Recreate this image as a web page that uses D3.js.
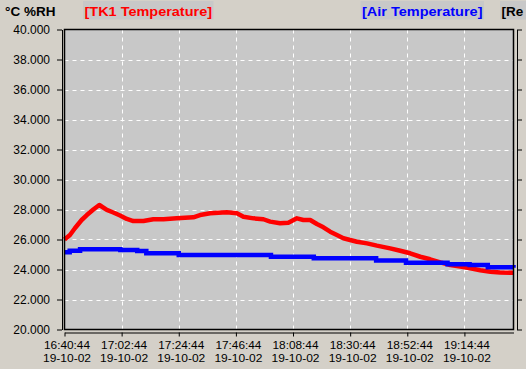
<!DOCTYPE html>
<html><head><meta charset="utf-8">
<script src="https://cdn.jsdelivr.net/npm/d3@7"></script>
<style>
html,body{margin:0;padding:0;background:#d4d0c8;}
svg{display:block;font-family:"Liberation Sans",Arial,sans-serif;}
</style></head>
<body>
<svg id="c" width="526" height="369"></svg>
<script>
// ---- data ----
const startTime = "16:40:44";
const dateLabel = "19-10-02";
const xTickMinutes = [0, 22, 44, 66, 88, 110, 132, 154];
const xTickTimes = ["16:40:44","17:02:44","17:24:44","17:46:44","18:08:44","18:30:44","18:52:44","19:14:44"];
const xTickDates = ["19-10-02","19-10-02","19-10-02","19-10-02","19-10-02","19-10-02","19-10-02","19-10-02"];
const yTicks = [20,22,24,26,28,30,32,34,36,38,40];
const seriesNames = ["[TK1 Temperature]", "[Air Temperature]", "[Re"];

// minutes since 16:40:44
const tk1Minutes = [0,2.1,4.0,6.6,8.6,11.1,13.4,16.3,18.8,21.4,24.0,26.5,30.4,34.2,38.1,43.2,49.6,52.2,56.1,62.5,66.4,68.9,72.8,76.6,79.2,83.0,86.2,89.5,92.0,94.6,97.2,99.7,102.3,104.9,107.4,110.0,112.6,116.5,120.3,125.4,129.3,133.1,137.0,140.8,144.7,148.6,152.4,156.3,160.1,164.0,167.8,172.9];
const tk1Values  = [26.0,26.3,26.75,27.3,27.63,28.0,28.3,27.97,27.8,27.6,27.37,27.23,27.23,27.35,27.35,27.41,27.48,27.63,27.75,27.81,27.75,27.52,27.41,27.35,27.19,27.08,27.12,27.41,27.3,27.3,27.03,26.81,26.52,26.3,26.08,25.97,25.85,25.74,25.59,25.41,25.25,25.08,24.85,24.68,24.48,24.3,24.19,24.08,23.95,23.85,23.8,23.78];

const airMinutes = [0,2,6,21.5,28,31.5,44,79.5,96,120,131.5,147.5,156,163,172.9];
const airValues  = [25.15,25.25,25.35,25.3,25.23,25.08,24.97,24.85,24.75,24.6,24.45,24.35,24.3,24.15,24.12];

// ---- chart ----
const svg = d3.select("#c");
const L = 64.5, R = 513.5, T = 29.5, B = 329.5;
const x = d3.scaleLinear().domain([0, 172.9]).range([L, R]);
const y = d3.scaleLinear().domain([20, 40]).range([B, T]);

// header labels
const hdr = svg.append("g").attr("font-weight","bold").attr("font-size","13.5px");
hdr.append("text").attr("x",5).attr("y",16).attr("fill","#000").text("°C %RH");
const boxes = [
  {x0:83, x1:213.5, color:"#ff0000", name:seriesNames[0]},
  {x0:360.5, x1:484, color:"#0000ff", name:seriesNames[1]},
  {x0:500, x1:530, color:"#000000", name:seriesNames[2]}
];
boxes.forEach(b=>{
  hdr.append("rect").attr("x",b.x0).attr("y",1).attr("width",b.x1-b.x0).attr("height",18.5).attr("fill","#c8c8c8");
  const t = hdr.append("text").attr("x",b.x0+1.5).attr("y",16).attr("fill",b.color).text(b.name);
  if (b.name.length>3) t.attr("textLength", b.x1-b.x0-3).attr("lengthAdjust","spacingAndGlyphs");
});

// plot background
svg.append("rect").attr("x",L).attr("y",T).attr("width",R-L).attr("height",B-T).attr("fill","#c8c8c8");

// grid
const grid = svg.append("g").attr("stroke","#ffffff").attr("stroke-width",1).attr("stroke-dasharray","4,4");
yTicks.filter(v=>v>20 && v<40).forEach(v=>{
  grid.append("line").attr("x1",L).attr("x2",R).attr("y1",Math.round(y(v))+0.5).attr("y2",Math.round(y(v))+0.5);
});
xTickMinutes.filter(m=>m>0).forEach(m=>{
  grid.append("line").attr("y1",T).attr("y2",B).attr("x1",Math.round(x(m))+0.5).attr("x2",Math.round(x(m))+0.5);
});

// series
const lineGen = d3.line().x(d=>x(d[0])).y(d=>y(d[1]));
const stepGen = d3.line().x(d=>x(d[0])).y(d=>y(d[1])).curve(d3.curveStepAfter);
svg.append("path").datum(tk1Minutes.map((m,i)=>[m,tk1Values[i]]))
  .attr("d",lineGen).attr("fill","none").attr("stroke","#ff0000").attr("stroke-width",4.5).attr("stroke-linejoin","round");
svg.append("path").datum(airMinutes.map((m,i)=>[m,airValues[i]]))
  .attr("d",stepGen).attr("fill","none").attr("stroke","#0000ff").attr("stroke-width",4.5);

// frame
svg.append("rect").attr("x",L).attr("y",T).attr("width",R-L).attr("height",B-T)
  .attr("fill","none").attr("stroke","#000").attr("stroke-width",1.5);

// left axis
const yAxis = d3.axisLeft(y).tickValues(yTicks).tickFormat(d3.format(".3f")).tickSize(5).tickSizeOuter(0).tickPadding(7);
const gy = svg.append("g").attr("transform","translate(62,0)").call(yAxis);
gy.selectAll("text").attr("font-size","12px").attr("fill","#000").attr("font-family","'Liberation Sans',Arial,sans-serif");
gy.selectAll("line,path").attr("stroke","#000");

// right axis
const yAxisR = d3.axisRight(y).tickValues(yTicks).tickFormat("").tickSize(5).tickSizeOuter(0);
const gyr = svg.append("g").attr("transform","translate(517,0)").call(yAxisR);
gyr.selectAll("line,path").attr("stroke","#000");

// bottom axis
const xAxis = d3.axisBottom(x).tickValues(xTickMinutes).tickFormat("").tickSize(4).tickSizeOuter(0);
const gx = svg.append("g").attr("transform","translate(0,332.5)").call(xAxis);
gx.selectAll("line,path").attr("stroke","#000");
const lbl = svg.append("g").attr("font-size","11px").attr("fill","#000").attr("text-anchor","middle");
xTickMinutes.forEach((m,i)=>{
  lbl.append("text").attr("x",x(m)+2.5).attr("y",348.5)
    .attr("textLength",46).attr("lengthAdjust","spacingAndGlyphs").text(xTickTimes[i]);
  lbl.append("text").attr("x",x(m)+2.5).attr("y",361.5)
    .attr("textLength",48).attr("lengthAdjust","spacingAndGlyphs").text(xTickDates[i]);
});
</script>
</body></html>
